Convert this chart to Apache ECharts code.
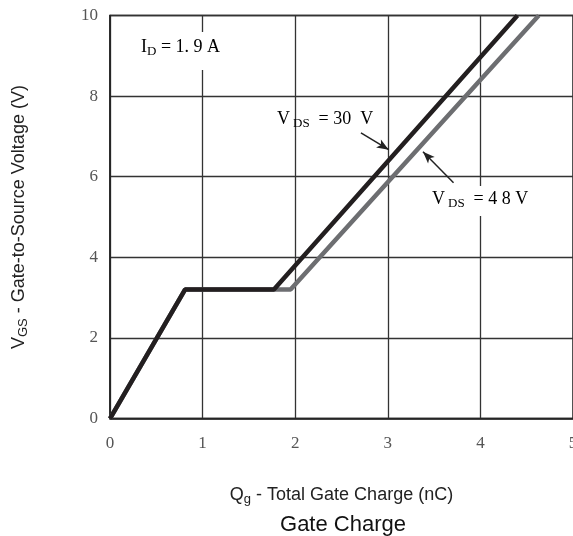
<!DOCTYPE html>
<html><head><meta charset="utf-8">
<script src="https://cdn.jsdelivr.net/npm/echarts@6/dist/echarts.min.js"></script>
<style>html,body{margin:0;padding:0;background:#fff}#c{width:573px;height:536px}</style>
</head><body><div id="c"></div>
<script>
// Data
const vds30 = [[0, 0], [0.81, 3.2], [1.77, 3.2], [4.40, 10]];
const vds48 = [[0, 0], [0.81, 3.2], [1.95, 3.2], [4.63, 10]];
const arrow30 = [[2.71, 7.09], [3.01, 6.67]];
const arrow48 = [[3.71, 5.85], [3.38, 6.62]];
const xTicks = [0, 1, 2, 3, 4, 5];
const yTicks = [0, 2, 4, 6, 8, 10];

const serif = 'Liberation Serif';
const sans = 'Liberation Sans';
const chart = echarts.init(document.getElementById('c'));
const subRich = {
  n: {fontFamily: sans, fontSize: 18, color: '#222'},
  s: {fontFamily: sans, fontSize: 13, color: '#222', padding: [8, 0, 0, 0]}
};
const lblRich = {
  n: {fontFamily: serif, fontSize: 18, color: '#444'},
  s: {fontFamily: serif, fontSize: 13, color: '#444', padding: [9, 0, 0, 0]},
  v: {fontFamily: serif, fontSize: 13, color: '#444', padding: [9, 0, 0, 3]}
};
chart.setOption({
  animation: false,
  grid: {left: 110, right: 0, top: 15.5, bottom: 117.4, show: true, borderColor: '#222', borderWidth: 1.5,
    outerBoundsMode: 'none', containLabel: false},
  title: {text: 'Gate Charge', left: 338, textAlign: 'center', top: 509,
    textStyle: {fontFamily: sans, fontSize: 22, fontWeight: 'normal', color: '#111'}},
  xAxis: {type: 'value', min: 0, max: 5, interval: 1,
    name: '{n|Q}{s|g}{n| - Total Gate Charge (nC)}', nameLocation: 'middle', nameGap: 66,
    nameTextStyle: {rich: subRich},
    axisLine: {show: true, lineStyle: {color: '#222', width: 1.5}},
    axisTick: {show: false},
    axisLabel: {fontFamily: serif, fontSize: 17, color: '#555', margin: 16,
      formatter: v => xTicks.includes(v) ? String(v) : ''},
    splitLine: {show: true, lineStyle: {color: '#333', width: 1.3}}},
  yAxis: {type: 'value', min: 0, max: 10, interval: 2,
    name: '{n|V}{s|GS}{n| - Gate-to-Source Voltage (V)}', nameLocation: 'middle', nameGap: 80,
    nameTextStyle: {rich: subRich},
    axisLine: {show: true, lineStyle: {color: '#222', width: 1.5}},
    axisTick: {show: false},
    axisLabel: {fontFamily: serif, fontSize: 17, color: '#555', margin: 12,
      formatter: v => yTicks.includes(v) ? String(v) : ''},
    splitLine: {show: true, lineStyle: {color: '#333', width: 1.3}}},
  series: [
    {type: 'line', data: vds48, symbol: 'none', z: 3,
      lineStyle: {color: '#6d6e71', width: 4.5},
      markLine: {silent: true, symbol: ['none', 'arrow'], symbolSize: [7, 12], label: {show: false},
        lineStyle: {color: '#222', width: 1.5, type: 'solid'},
        data: [[{coord: arrow48[0]}, {coord: arrow48[1]}]]}},
    {type: 'line', data: vds30, symbol: 'none', z: 4,
      lineStyle: {color: '#231f20', width: 4.5},
      markLine: {silent: true, symbol: ['none', 'arrow'], symbolSize: [7, 12], label: {show: false},
        lineStyle: {color: '#222', width: 1.5, type: 'solid'},
        data: [[{coord: arrow30[0]}, {coord: arrow30[1]}]]}}
  ],
  graphic: [
    {type: 'text', left: 138, top: 32, z: 10,
      style: {text: '{n|I}{s|D}{n| = 1. 9 A}', rich: lblRich, backgroundColor: '#fff', padding: [4, 3, 12, 3]}},
    {type: 'text', left: 277, top: 110, z: 10,
      style: {text: '{n|V}{v|DS}{n|  = 30  V}', rich: lblRich}},
    {type: 'text', left: 430, top: 186, z: 10,
      style: {text: '{n|V}{v|DS}{n|  = 4 8 V}', rich: lblRich, backgroundColor: '#fff', padding: [2, 2, 6, 2]}}
  ]
});
</script></body></html>
